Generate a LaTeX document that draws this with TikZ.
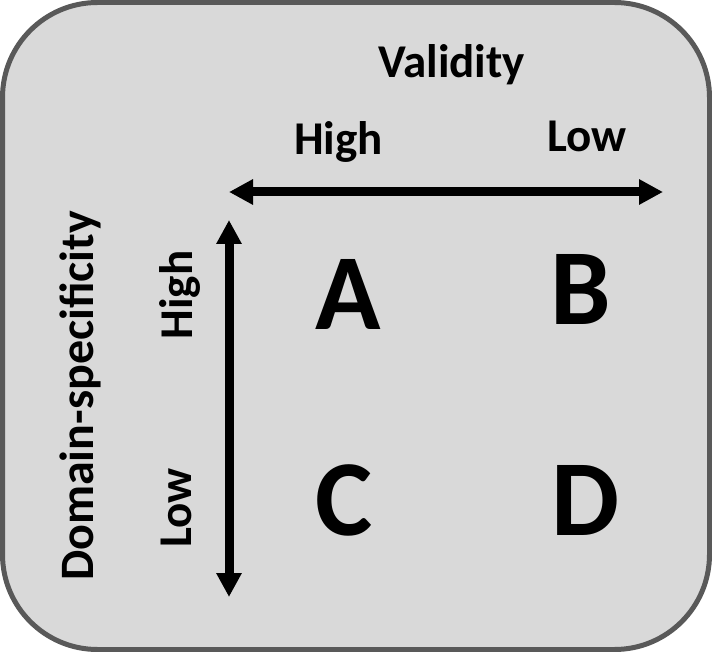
\documentclass[tikz,border=0pt]{standalone}
\usepackage{fontspec}
\setmainfont{Carlito}
\usetikzlibrary{arrows.meta}
\definecolor{boxfill}{HTML}{D9D9D9}
\definecolor{boxline}{HTML}{595959}
\tikzset{
  lbl/.style={inner sep=0pt, anchor=base, font=\bfseries\fontsize{47}{56}\selectfont},
  big/.style={inner sep=0pt, anchor=base, font=\bfseries\fontsize{108}{120}\selectfont},
  axis/.style={line width=9pt, {Triangle[length=24pt,width=24pt]}-{Triangle[length=24pt,width=24pt]}}
}
\begin{document}
\begin{tikzpicture}[x=1pt,y=-1pt]
\useasboundingbox (0,0) rectangle (712,652);
\draw[line width=5pt, draw=boxline, fill=boxfill, rounded corners=95pt] (2.5,2.5) rectangle (709.5,649.5);
\node[lbl] (val) at (451.5,78) {Validity};
\node[lbl] (vhigh) at (338.5,155) {High};
\node[lbl] (vlow) at (587,152) {Low};
\node[lbl, rotate=90, font=\bfseries\fontsize{48}{56}\selectfont] (dom) at (93,396) {Domain-specificity};
\node[lbl, rotate=90] (dhigh) at (192,295) {High};
\node[lbl, rotate=90] (dlow) at (191,508) {Low};
\node[big] (A) at (348,329) {A};
\node[big] (B) at (581,324) {B};
\node[big] (C) at (344,535) {C};
\node[big] (D) at (586,535) {D};
\coordinate (hl) at (229,192);
\coordinate (hr) at (663,192);
\coordinate (vt) at (229,220);
\coordinate (vb) at (229,597);
\draw[axis] (hl) -- (hr);
\draw[axis] (vt) -- (vb);
\end{tikzpicture}
\end{document}
